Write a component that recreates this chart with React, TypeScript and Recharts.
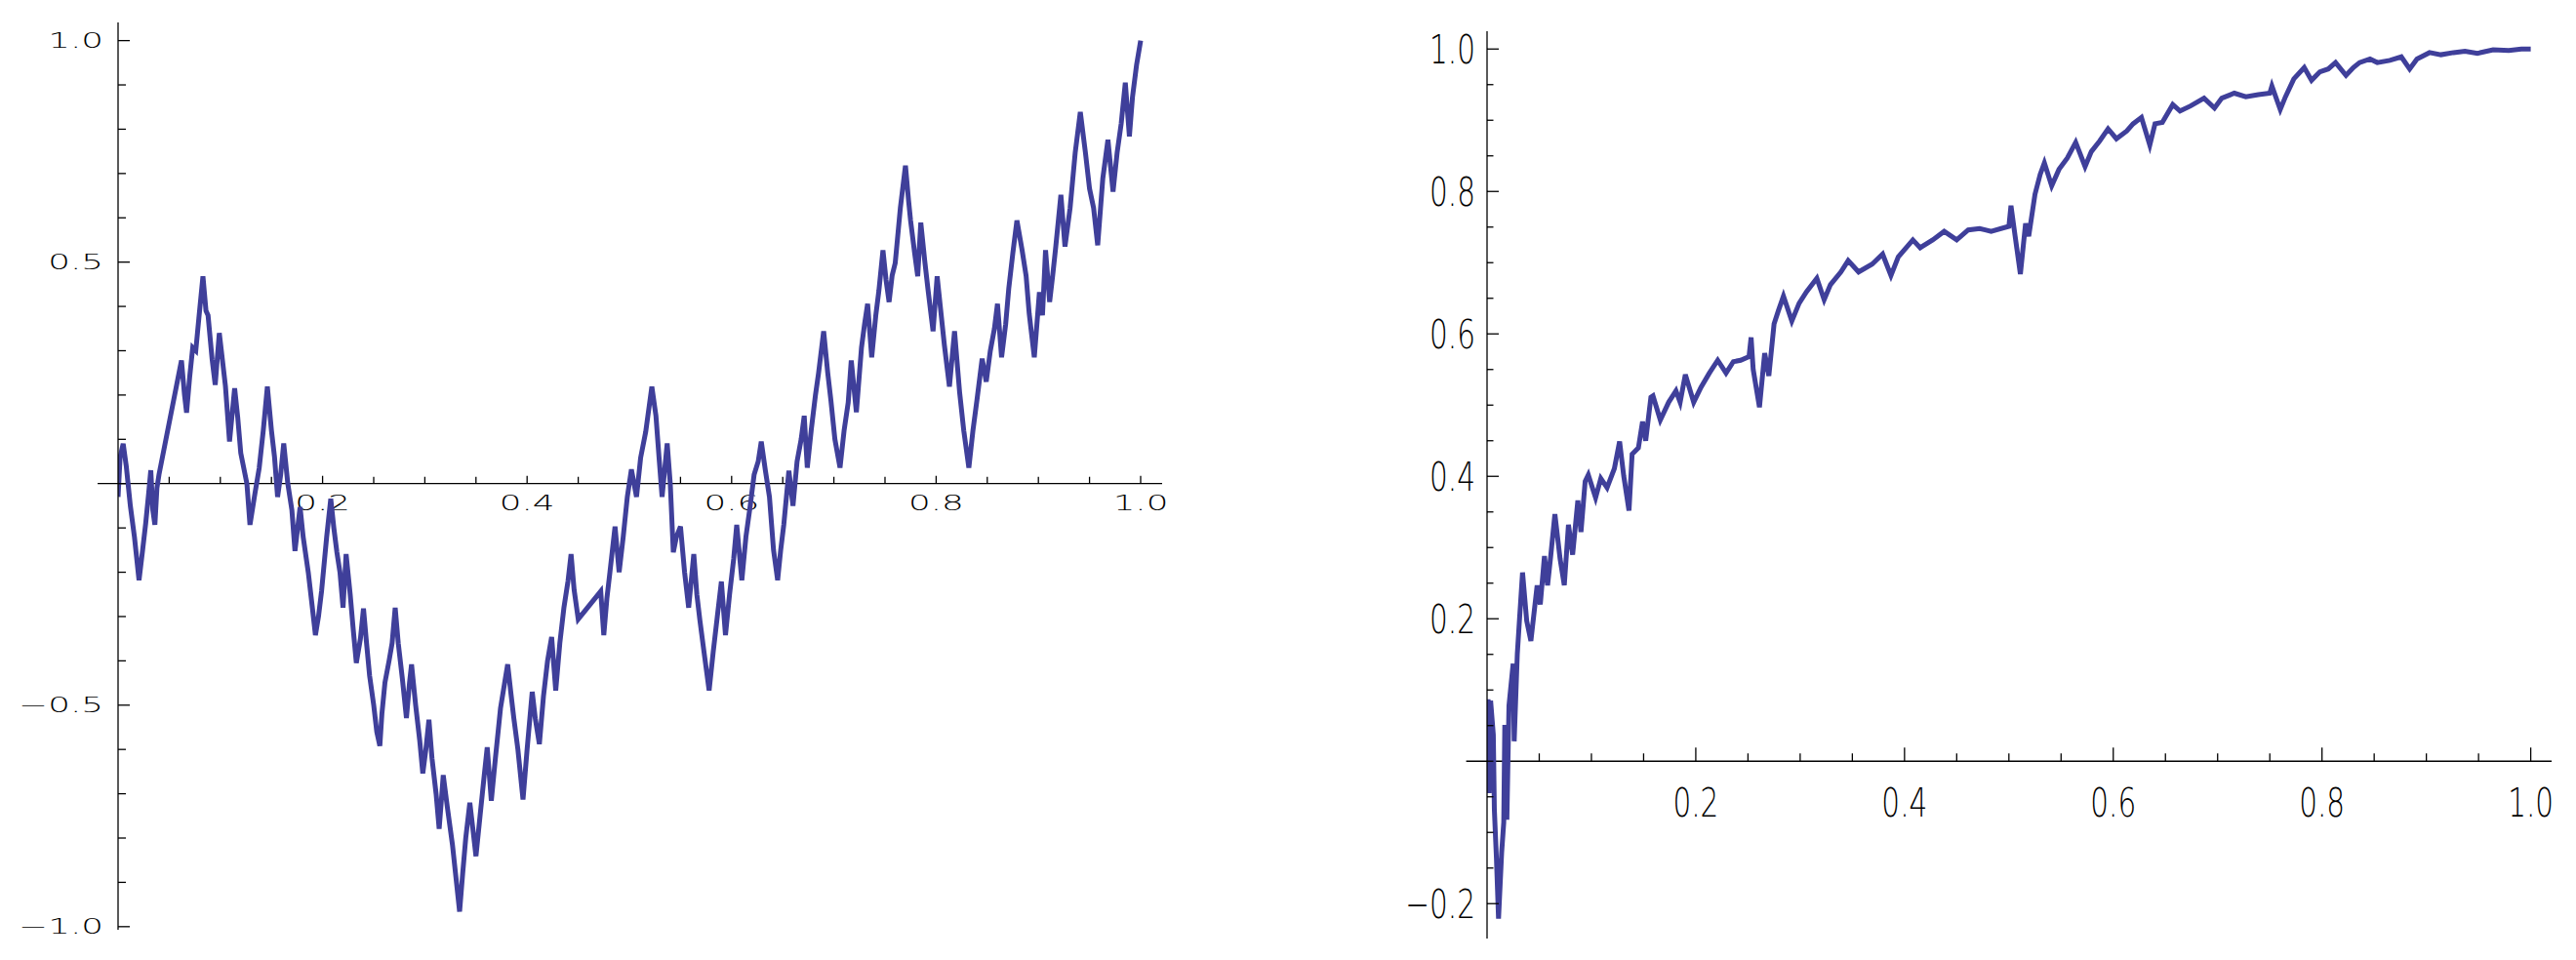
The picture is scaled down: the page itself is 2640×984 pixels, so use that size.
import React from 'react';
import { LineChart, Line, XAxis, YAxis, ReferenceLine } from 'recharts';

const LINE_COLOR = '#3f3f9a';

// left panel path
const leftX = [
  0, 0.002, 0.005, 0.008, 0.012, 0.016, 0.0205, 0.024, 0.027, 0.03, 0.032, 0.034, 0.036, 0.038, 0.04,
  0.062, 0.065, 0.067, 0.07, 0.073, 0.076, 0.079, 0.083, 0.086, 0.088, 0.092, 0.095, 0.099, 0.102, 0.105,
  0.109, 0.114, 0.117, 0.12, 0.126, 0.129, 0.134, 0.138, 0.142, 0.146, 0.15, 0.153, 0.156, 0.159, 0.162,
  0.166, 0.17, 0.173, 0.178, 0.181, 0.186, 0.19, 0.193, 0.196, 0.199, 0.204, 0.208, 0.211, 0.214, 0.217,
  0.22, 0.223, 0.227, 0.23, 0.233, 0.237, 0.24, 0.243, 0.246, 0.25, 0.253, 0.256, 0.258, 0.261, 0.265,
  0.268, 0.271, 0.274, 0.278, 0.282, 0.285, 0.287, 0.291, 0.295, 0.298, 0.301, 0.304, 0.307, 0.311, 0.314,
  0.316, 0.318, 0.322, 0.327, 0.33, 0.334, 0.337, 0.34, 0.344, 0.347, 0.35, 0.354, 0.358, 0.361, 0.365,
  0.369, 0.374, 0.378, 0.381, 0.384, 0.387, 0.391, 0.396, 0.4, 0.405, 0.408, 0.412, 0.416, 0.42, 0.424,
  0.428, 0.432, 0.436, 0.44, 0.443, 0.446, 0.45, 0.472, 0.475, 0.478, 0.481, 0.486, 0.49, 0.494, 0.498,
  0.502, 0.507, 0.511, 0.516, 0.522, 0.526, 0.529, 0.532, 0.537, 0.54, 0.543, 0.546, 0.55, 0.554, 0.558,
  0.563, 0.566, 0.569, 0.573, 0.578, 0.582, 0.586, 0.59, 0.594, 0.598, 0.602, 0.605, 0.61, 0.614, 0.618,
  0.622, 0.626, 0.629, 0.633, 0.637, 0.641, 0.645, 0.648, 0.651, 0.656, 0.66, 0.664, 0.668, 0.671, 0.674,
  0.678, 0.682, 0.685, 0.69, 0.694, 0.697, 0.701, 0.706, 0.71, 0.714, 0.717, 0.722, 0.727, 0.73, 0.733,
  0.737, 0.741, 0.744, 0.748, 0.751, 0.754, 0.757, 0.76, 0.765, 0.77, 0.773, 0.775, 0.779, 0.782, 0.785,
  0.789, 0.792, 0.797, 0.801, 0.805, 0.808, 0.813, 0.818, 0.823, 0.827, 0.832, 0.836, 0.84, 0.845, 0.849,
  0.853, 0.857, 0.86, 0.864, 0.868, 0.871, 0.875, 0.879, 0.884, 0.888, 0.891, 0.896, 0.901, 0.904, 0.907,
  0.911, 0.914, 0.917, 0.922, 0.926, 0.931, 0.936, 0.941, 0.946, 0.95, 0.954, 0.958, 0.963, 0.968, 0.973,
  0.977, 0.981, 0.985, 0.989, 0.992, 0.996, 1.0,
];
const leftY = [
  -0.03, 0.06, 0.09, 0.04, -0.05, -0.12, -0.218, -0.15, -0.09, -0.02, 0.03, -0.06, -0.093, -0.01, 0.02,
  0.278, 0.2, 0.16, 0.24, 0.307, 0.3, 0.373, 0.468, 0.39, 0.38, 0.28, 0.223, 0.34, 0.28, 0.22,
  0.095, 0.215, 0.15, 0.069, 0.0, -0.093, -0.02, 0.035, 0.12, 0.219, 0.12, 0.06, -0.03, 0.02, 0.091,
  0.0, -0.06, -0.152, -0.053, -0.12, -0.2, -0.28, -0.342, -0.3, -0.243, -0.12, -0.034, -0.1, -0.155, -0.2,
  -0.28, -0.159, -0.25, -0.33, -0.405, -0.35, -0.282, -0.36, -0.434, -0.5, -0.56, -0.592, -0.52, -0.449, -0.4,
  -0.36, -0.28, -0.36, -0.44, -0.529, -0.45, -0.408, -0.5, -0.58, -0.654, -0.6, -0.533, -0.62, -0.7, -0.779,
  -0.72, -0.658, -0.73, -0.815, -0.88, -0.966, -0.88, -0.8, -0.72, -0.78, -0.841, -0.75, -0.66, -0.595, -0.716,
  -0.62, -0.507, -0.45, -0.408, -0.47, -0.529, -0.6, -0.713, -0.6, -0.47, -0.53, -0.588, -0.48, -0.4, -0.346,
  -0.467, -0.36, -0.28, -0.22, -0.159, -0.24, -0.306, -0.243, -0.342, -0.26, -0.2, -0.097, -0.2, -0.12, -0.03,
  0.032, -0.03, 0.058, 0.117, 0.219, 0.153, 0.06, -0.03, 0.091, 0.0, -0.155, -0.12, -0.097, -0.2, -0.28,
  -0.159, -0.25, -0.309, -0.38, -0.467, -0.38, -0.3, -0.221, -0.342, -0.25, -0.17, -0.093, -0.218, -0.12, -0.053,
  0.02, 0.05, 0.095, 0.03, -0.03, -0.15, -0.218, -0.15, -0.093, 0.029, -0.05, 0.05, 0.1, 0.153, 0.036,
  0.124, 0.2, 0.249, 0.344, 0.25, 0.19, 0.1, 0.036, 0.12, 0.183, 0.278, 0.161, 0.307, 0.36, 0.406,
  0.285, 0.38, 0.435, 0.527, 0.46, 0.41, 0.47, 0.498, 0.622, 0.718, 0.64, 0.594, 0.52, 0.468, 0.589,
  0.5, 0.439, 0.344, 0.468, 0.38, 0.314, 0.219, 0.344, 0.205, 0.12, 0.036, 0.12, 0.19, 0.282, 0.23,
  0.3, 0.35, 0.406, 0.285, 0.36, 0.44, 0.52, 0.594, 0.528, 0.469, 0.384, 0.285, 0.432, 0.38, 0.527,
  0.41, 0.47, 0.535, 0.652, 0.535, 0.622, 0.747, 0.839, 0.747, 0.666, 0.622, 0.538, 0.689, 0.776, 0.659,
  0.747, 0.813, 0.905, 0.784, 0.872, 0.945, 1.0,
];

// right panel path
const rightX = [
  0, 0.001, 0.002, 0.0034, 0.006, 0.007, 0.009, 0.011, 0.014, 0.016, 0.017, 0.019, 0.021, 0.025, 0.026,
  0.029, 0.031, 0.034, 0.038, 0.042, 0.048, 0.051, 0.055, 0.058, 0.061, 0.065, 0.07, 0.074, 0.078, 0.082,
  0.087, 0.09, 0.094, 0.097, 0.104, 0.109, 0.115, 0.122, 0.127, 0.131, 0.136, 0.139, 0.145, 0.149, 0.152,
  0.157, 0.159, 0.166, 0.174, 0.181, 0.185, 0.19, 0.198, 0.205, 0.213, 0.221, 0.229, 0.236, 0.243, 0.251,
  0.253, 0.255, 0.261, 0.266, 0.27, 0.275, 0.279, 0.284, 0.292, 0.299, 0.306, 0.316, 0.323, 0.329, 0.339,
  0.346, 0.356, 0.369, 0.379, 0.387, 0.394, 0.408, 0.415, 0.427, 0.438, 0.45, 0.461, 0.472, 0.483, 0.5,
  0.502, 0.506, 0.511, 0.516, 0.519, 0.525, 0.53, 0.534, 0.541, 0.548, 0.556, 0.564, 0.573, 0.579, 0.587,
  0.595, 0.603, 0.613, 0.619, 0.627, 0.635, 0.64, 0.647, 0.657, 0.664, 0.674, 0.687, 0.697, 0.704, 0.716,
  0.727, 0.739, 0.75, 0.752, 0.76, 0.765, 0.773, 0.783, 0.79, 0.798, 0.806, 0.813, 0.823, 0.83, 0.836,
  0.846, 0.853, 0.865, 0.876, 0.884, 0.891, 0.903, 0.914, 0.926, 0.937, 0.949, 0.964, 0.979, 0.991, 1.0,
];
const rightY = [
  0, 0.087, -0.045, 0.085, 0.037, -0.068, -0.137, -0.221, -0.128, -0.086, 0.051, -0.082, 0.078, 0.137, 0.028,
  0.151, 0.197, 0.265, 0.197, 0.169, 0.247, 0.22, 0.288, 0.247, 0.288, 0.347, 0.284, 0.247, 0.332, 0.29,
  0.366, 0.322, 0.393, 0.402, 0.37, 0.397, 0.384, 0.411, 0.449, 0.4, 0.352, 0.431, 0.44, 0.477, 0.45,
  0.511, 0.513, 0.479, 0.504, 0.52, 0.504, 0.543, 0.504, 0.525, 0.545, 0.563, 0.545, 0.561, 0.563, 0.568,
  0.595, 0.55, 0.497, 0.573, 0.541, 0.614, 0.632, 0.653, 0.618, 0.643, 0.659, 0.678, 0.648, 0.669, 0.687,
  0.703, 0.687, 0.698, 0.712, 0.682, 0.708, 0.732, 0.721, 0.732, 0.744, 0.732, 0.746, 0.748, 0.744, 0.751,
  0.78, 0.737, 0.684, 0.755, 0.737, 0.796, 0.824, 0.84, 0.808, 0.831, 0.847, 0.869, 0.835, 0.856, 0.871,
  0.888, 0.874, 0.885, 0.895, 0.904, 0.865, 0.895, 0.897, 0.922, 0.913, 0.92, 0.931, 0.917, 0.931, 0.938,
  0.933, 0.936, 0.938, 0.948, 0.915, 0.933, 0.958, 0.974, 0.956, 0.968, 0.972, 0.981, 0.963, 0.974, 0.981,
  0.986, 0.981, 0.984, 0.989, 0.972, 0.986, 0.995, 0.992, 0.995, 0.997, 0.994, 0.999, 0.998, 1.0, 1.0,
];

// ticks and labels
const xTicks = [0.05, 0.1, 0.15, 0.2, 0.25, 0.3, 0.35, 0.4, 0.45, 0.5, 0.55, 0.6, 0.65, 0.7, 0.75, 0.8, 0.85, 0.9, 0.95, 1.0];
const xLabels = [0.2, 0.4, 0.6, 0.8, 1.0];
const leftYTicks = [-1, -0.9, -0.8, -0.7, -0.6, -0.5, -0.4, -0.3, -0.2, -0.1, 0, 0.1, 0.2, 0.3, 0.4, 0.5, 0.6, 0.7, 0.8, 0.9, 1];
const leftYLabels = [-1, -0.5, 0.5, 1];
const rightYTicks = [-0.2, -0.15, -0.1, -0.05, 0, 0.05, 0.1, 0.15, 0.2, 0.25, 0.3, 0.35, 0.4, 0.45, 0.5, 0.55, 0.6, 0.65, 0.7, 0.75, 0.8, 0.85, 0.9, 0.95, 1.0];
const rightYLabels = [-0.2, 0.2, 0.4, 0.6, 0.8, 1.0];

const leftData = leftX.map((x, i) => ({ x, y: leftY[i] }));
const rightData = rightX.map((x, i) => ({ x, y: rightY[i] }));

const has = (arr: number[], v: number) => arr.some((a) => Math.abs(a - v) < 1e-6);
const fmt = (v: number) => (v < 0 ? '\u2212' : '') + Math.abs(v).toFixed(1);

const LEFT_FONT = { fontFamily: 'DejaVu Sans', fontSize: 21, fontWeight: 200 };
const RIGHT_FONT = { fontFamily: 'DejaVu Sans', fontSize: 41, fontWeight: 200 };

// old-style wide glyphs on the left, tall narrow ones on the right
function PlotText({ x, y, anchor, text, side }: any) {
  const font = side === 'left' ? LEFT_FONT : RIGHT_FONT;
  const sx = side === 'left' ? 1.7 : 0.72;
  return (
    <text
      transform={`translate(${x},${y}) scale(${sx},1)`}
      textAnchor={anchor}
      fill="#000"
      {...font}
    >
      {text}
    </text>
  );
}

function YTick({ x, y, payload, side }: any) {
  const v = payload.value;
  const labels = side === 'left' ? leftYLabels : rightYLabels;
  const major = side === 'left' ? has([-1, -0.5, 0.5, 1], v) : has([-0.2, 0.2, 0.4, 0.6, 0.8, 1], v);
  const len = side === 'left' ? (major ? 12 : 8) : (major ? 12 : 6.5);
  const gap = side === 'left' ? 15 : 12;
  const dy = side === 'left' ? 7.6 : 15;
  return (
    <g>
      <line x1={x} x2={x + len} y1={y} y2={y} stroke="#000" strokeWidth={1.3} />
      {has(labels, v) && <PlotText x={x - gap} y={y + dy} anchor="end" text={fmt(v)} side={side} />}
    </g>
  );
}

function XLabel({ viewBox, text, side }: any) {
  if (!viewBox) return null;
  const cx = viewBox.x + viewBox.width / 2;
  const base = viewBox.y + viewBox.height;
  const y = side === 'left' ? base + 27 : base + 57;
  return <PlotText x={cx} y={y} anchor="middle" text={text} side={side} />;
}

function Panel({ data, width, margin, yAxisWidth, xDomain, yDomain, yTicks, side, pxPerUnit, strokeWidth }: any) {
  const majorLen = side === 'left' ? 8 : 14;
  const minorLen = side === 'left' ? 7 : 8;
  return (
    <LineChart width={width} height={984} data={data} margin={margin}>
      <XAxis type="number" dataKey="x" domain={xDomain} hide allowDataOverflow />
      <YAxis
        type="number"
        domain={yDomain}
        ticks={yTicks}
        interval={0}
        width={yAxisWidth}
        tick={<YTick side={side} />}
        tickLine={false}
        tickSize={0}
        tickMargin={0}
        axisLine={{ stroke: '#000', strokeWidth: 1.3 }}
        allowDataOverflow
      />
      <ReferenceLine
        segment={[{ x: -0.02, y: 0 }, { x: xDomain[1], y: 0 }]}
        stroke="#000"
        strokeWidth={1.3}
        ifOverflow="visible"
      />
      {xTicks.map((t) => {
        const major = has(xLabels, t);
        const len = (major ? majorLen : minorLen) / pxPerUnit;
        return (
          <ReferenceLine
            key={t}
            segment={[{ x: t, y: 0 }, { x: t, y: len }]}
            stroke="#000"
            strokeWidth={1.3}
            ifOverflow="visible"
            label={major ? <XLabel text={t.toFixed(1)} side={side} /> : undefined}
          />
        );
      })}
      <Line
        type="linear"
        dataKey="y"
        stroke={LINE_COLOR}
        strokeWidth={strokeWidth}
        dot={false}
        activeDot={false}
        isAnimationActive={false}
        strokeLinejoin="miter"
      />
    </LineChart>
  );
}

export default function App() {
  return (
    <div style={{ position: 'absolute', left: 0, top: 0, width: 2640, height: 984, background: '#fff' }}>
      <div style={{ position: 'absolute', left: 0, top: 0 }}>
        <Panel
          data={leftData}
          width={1220}
          margin={{ top: 23, right: 29, bottom: 31, left: 0 }}
          yAxisWidth={121}
          xDomain={[0, 1.021]}
          yDomain={[-1.007, 1.041]}
          yTicks={leftYTicks}
          side="left"
          pxPerUnit={454.1}
          strokeWidth={5}
        />
      </div>
      <div style={{ position: 'absolute', left: 1380, top: 0 }}>
        <Panel
          data={rightData}
          width={1260}
          margin={{ top: 32, right: 25, bottom: 22, left: 0 }}
          yAxisWidth={144}
          xDomain={[0, 1.02]}
          yDomain={[-0.249, 1.025]}
          yTicks={rightYTicks}
          side="right"
          pxPerUnit={730}
          strokeWidth={5}
        />
      </div>
    </div>
  );
}
